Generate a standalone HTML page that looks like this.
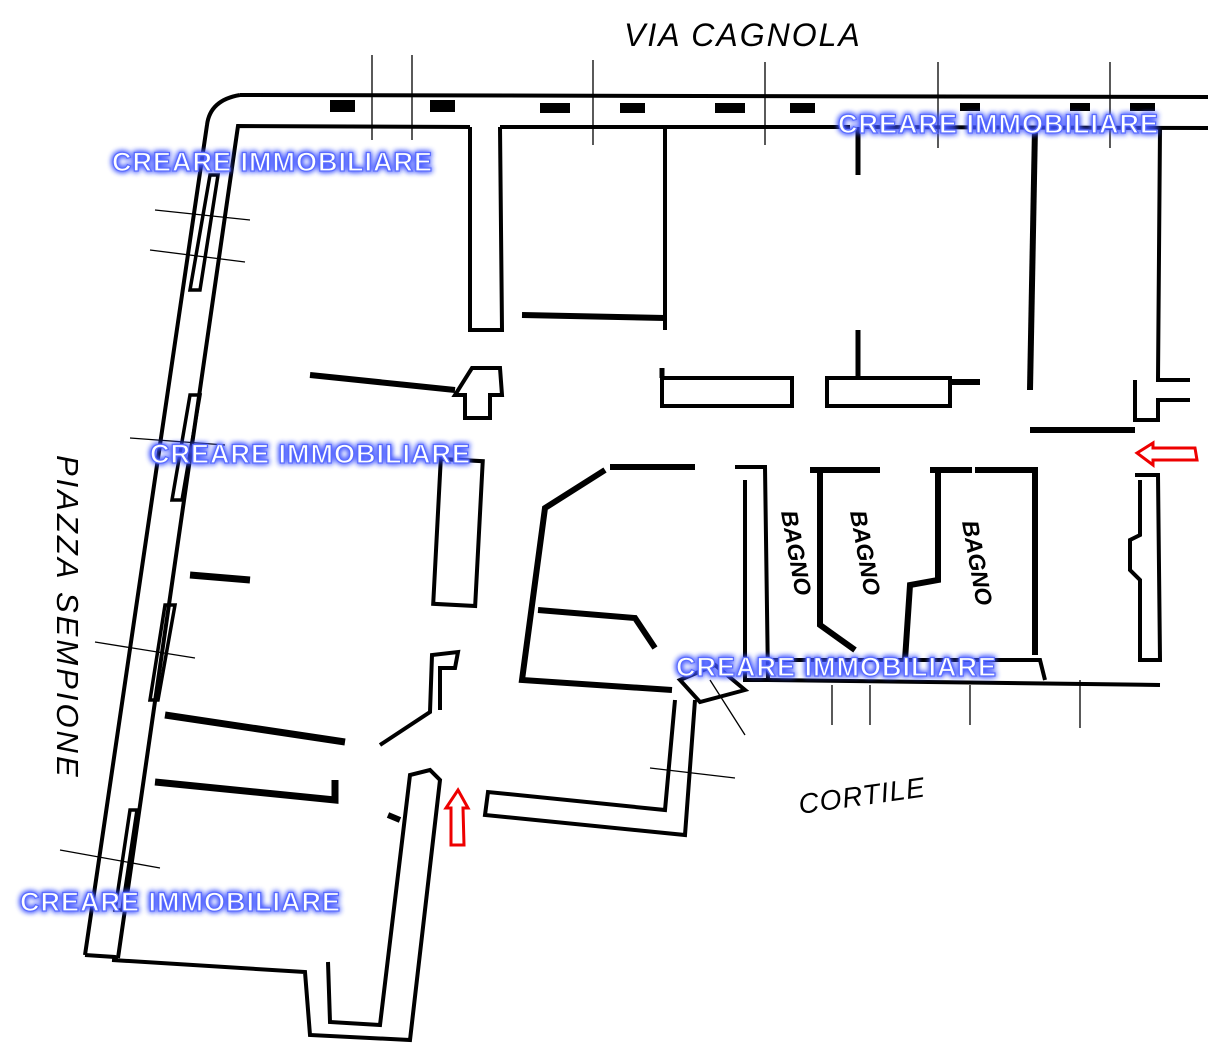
<!DOCTYPE html><html><head><style>body{margin:0;background:#fff}svg{display:block}
.w{font-family:"Liberation Sans",sans-serif;font-weight:bold;font-size:27px;letter-spacing:1px;fill:#fff;stroke:#5a6cff;stroke-width:1.2px;filter:url(#g)}
.l{font-family:"Liberation Sans",sans-serif;font-style:italic;fill:#000}
</style></head><body>
<svg width="1231" height="1058" viewBox="0 0 1231 1058">
<defs><filter id="g" x="-10%" y="-50%" width="120%" height="200%"><feGaussianBlur in="SourceAlpha" stdDeviation="3" result="b"/><feFlood flood-color="#4055ff"/><feComposite in2="b" operator="in"/><feMerge><feMergeNode/><feMergeNode/><feMergeNode in="SourceGraphic"/></feMerge></filter></defs>
<g fill="none" stroke="#000" stroke-width="4">
<path d="M240 95 L1208 97 M240 95 Q210 100 207 125 L85 955"/>
<path d="M1208 128 L860 127 M850 127 L500 127 M470 127 L238 126 L118 958"/>
<path d="M85 955 L115 957 L118 958 M112 960 L305 972 L310 1035 L410 1040 L440 780 L430 770 L410 775 L380 1025 L330 1022 L328 962"/>
<path d="M470 127 L470 330 L502 330 L500 127"/>
<path d="M665 127 L665 330"/><path d="M522 315 L665 318" stroke-width="6"/>
<path d="M858 127 L858 175" stroke-width="5"/><path d="M858 330 L858 380" stroke-width="5"/>
<path d="M1035 127 L1030 390" stroke-width="6"/><path d="M1160 128 L1158 380 L1190 380 M1135 380 L1135 420 L1158 420 L1158 400 L1190 400"/>
<path d="M1030 430 L1135 430" stroke-width="6"/>
<path d="M310 375 L455 390" stroke-width="6"/><path d="M472 368 L500 368 L502 395 L490 395 L490 418 L465 418 L465 395 L455 395 Z"/>
<rect x="662" y="378" width="130" height="28"/><rect x="827" y="378" width="123" height="28"/><path d="M950 382 L980 382" stroke-width="6"/>
<path d="M662 368 L662 378" stroke-width="5"/>
<rect x="437" y="460" width="42" height="145" transform="rotate(3 458 532)"/>
<path d="M610 467 L695 467" stroke-width="6"/><path d="M605 470 L545 508 L522 680 L672 690" stroke-width="6"/>
<path d="M538 610 L635 618 L655 648" stroke-width="6"/>
<path d="M680 680 L715 665 L745 690 L700 702 Z"/>
<path d="M695 700 L685 835 L485 815 L488 792 L665 810 L675 700"/>
<path d="M735 467 L765 467 L768 680 L745 680 L745 480"/>
<path d="M810 470 L880 470 M820 470 L820 625 L855 650" stroke-width="6"/>
<path d="M930 470 L972 470 M938 470 L938 580 L910 585 L905 660" stroke-width="6"/>
<path d="M975 470 L1035 470 L1035 655" stroke-width="6"/>
<path d="M768 680 L1160 685 M768 660 L1005 660 L1040 660 L1045 680"/>
<path d="M1135 475 L1158 475 L1160 660 L1140 660 L1140 580 L1130 570 L1130 540 L1140 535 L1140 480"/>
<path d="M190 575 L250 580" stroke-width="7"/><path d="M165 715 L345 742" stroke-width="7"/><path d="M155 782 L335 800 L335 780" stroke-width="7"/>
<path d="M380 745 L430 712 L432 655 L458 652 L455 668 L440 668 L440 710" />
<path d="M388 815 L400 820" stroke-width="6"/>
<path d="M210 175 L190 290 L200 290 L218 175Z M190 395 L172 500 L182 500 L200 395Z M165 605 L150 700 L158 700 L175 605Z M130 810 L115 910 L122 910 L137 810Z" stroke-width="3.5"/>
</g>
<g stroke="#000" stroke-width="1.3">
<path d="M372 55 L372 140 M412 55 L412 140 M593 60 L593 145 M765 62 L765 145 M938 62 L938 148 M1110 62 L1110 148 M155 210 L250 220 M150 250 L245 262 M130 438 L225 445 M95 642 L195 658 M60 850 L160 868 M650 768 L735 778 M710 680 L745 735 M832 685 L832 725 M870 685 L870 725 M970 685 L970 725 M1080 680 L1080 728"/>
</g>
<g fill="#000"><rect x="330" y="100" width="25" height="12"/><rect x="430" y="100" width="25" height="12"/><rect x="540" y="103" width="30" height="10"/><rect x="620" y="103" width="25" height="10"/><rect x="715" y="103" width="30" height="10"/><rect x="790" y="103" width="25" height="10"/><rect x="960" y="103" width="20" height="8"/><rect x="1070" y="103" width="20" height="8"/><rect x="1130" y="103" width="25" height="8"/></g>
<text class="l" x="624" y="46" font-size="32" letter-spacing="2">VIA  CAGNOLA</text>
<text class="l" font-size="31" letter-spacing="3" transform="translate(57,455) rotate(90)">PIAZZA  SEMPIONE</text>
<text class="l" font-size="28" letter-spacing="1" transform="translate(800,814) rotate(-8)">CORTILE</text>
<g class="l" font-size="23" font-weight="bold" font-style="normal"><text transform="translate(781,512) rotate(80)">BAGNO</text><text transform="translate(850,512) rotate(80)">BAGNO</text><text transform="translate(962,522) rotate(80)">BAGNO</text></g>
<g fill="#fff" stroke="#e00" stroke-width="3"><path d="M1137 453 L1153 443 L1153 448 L1195 448 L1197 460 L1153 460 L1153 465 Z"/><path d="M458 790 L468 808 L463 808 L464 845 L451 845 L451 808 L446 808 Z"/></g>
<text class="w" x="112" y="171">CREARE IMMOBILIARE</text>
<text class="w" x="838" y="133">CREARE IMMOBILIARE</text>
<text class="w" x="150" y="463">CREARE IMMOBILIARE</text>
<text class="w" x="676" y="676">CREARE IMMOBILIARE</text>
<text class="w" x="20" y="911">CREARE IMMOBILIARE</text>
</svg></body></html>
